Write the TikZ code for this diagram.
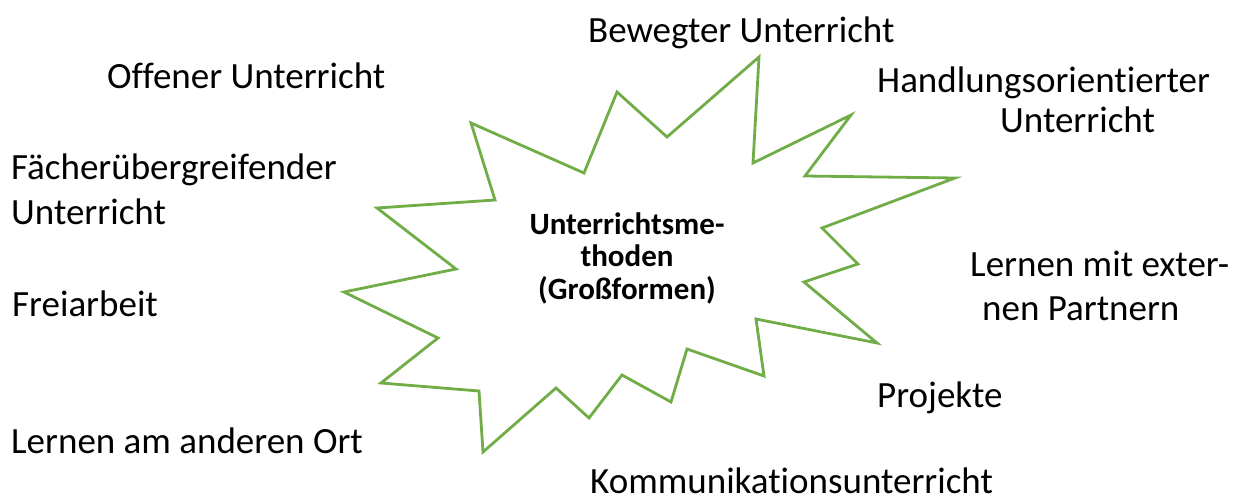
\documentclass[tikz,border=0pt]{standalone}
\usepackage{fontspec}
\setmainfont{Carlito}[Ligatures=NoCommon]
\definecolor{stargreen}{HTML}{70AD47}
\tikzset{
  lbl/.style={anchor=base west, inner sep=0pt, font=\fontsize{37}{44}\selectfont},
  ctr/.style={anchor=base, inner sep=0pt, font=\fontsize{31}{33}\selectfont\bfseries},
  starline/.style={draw=stargreen, line width=2.8pt, line join=miter, fill=white}
}
\begin{document}
\begin{tikzpicture}[x=1pt,y=-1pt]
\useasboundingbox (0,0) rectangle (1236,502);
% star
\draw[starline] (759,57) -- (753,163) -- (851,115) -- (805,176) -- (955,178) -- (822,228)
  -- (858,264) -- (804,282) -- (877,343) -- (756,319) -- (764,376) -- (687,349)
  -- (671,402) -- (622,375) -- (589,418) -- (556,388) -- (483,452) -- (479,391)
  -- (381,383) -- (438,338) -- (344,292) -- (456,269) -- (377,208) -- (495,200)
  -- (471,123) -- (584,173) -- (617,92) -- (667,137) -- cycle;
% centre
\node[ctr] (c1) at (627,235) {Unterrichtsme-};
\node[ctr] (c2) at (627,267) {thoden};
\node[ctr] (c3) at (627,300) {(Großformen)};
% labels
\node[lbl] (bew) at (588,43) {Bewegter Unterricht};
\node[lbl] (off) at (107,89) {Offener Unterricht};
\node[lbl] (hand1) at (877,93) {Handlungsorientierter};
\node[lbl] (hand2) at (1000,133) {Unterricht};
\node[lbl] (fach1) at (11,180) {Fächerübergreifender};
\node[lbl] (fach2) at (11,225) {Unterricht};
\node[lbl] (ext1) at (970,277) {Lernen mit exter-};
\node[lbl] (ext2) at (982,321) {nen Partnern};
\node[lbl] (frei) at (12,317) {Freiarbeit};
\node[lbl] (proj) at (877,407) {Projekte};
\node[lbl] (ort) at (11,453) {Lernen am anderen Ort};
\node[lbl] (komm) at (590,493) {Kommunikationsunterricht};
\end{tikzpicture}
\end{document}
